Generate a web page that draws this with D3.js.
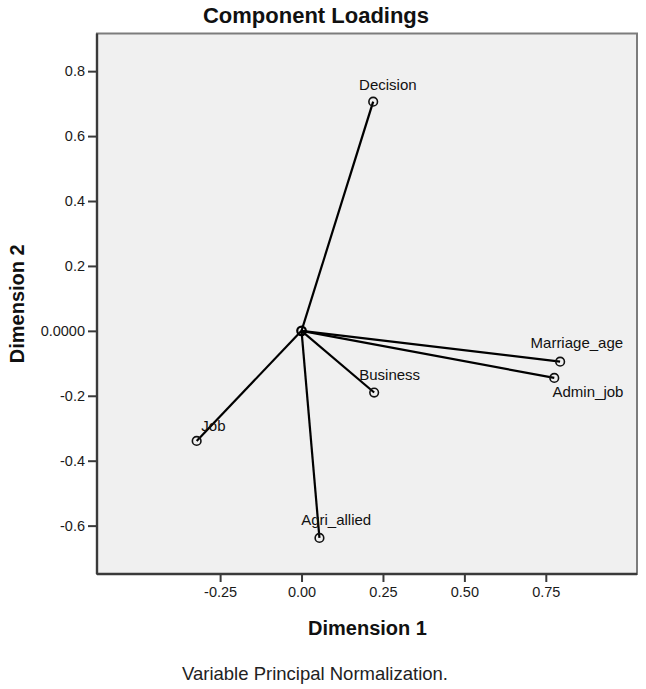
<!DOCTYPE html>
<html>
<head>
<meta charset="utf-8">
<script src="https://cdn.jsdelivr.net/npm/d3@7"></script>
<style>
  html, body { margin: 0; padding: 0; background: #ffffff; }
  svg { display: block; font-family: "Liberation Sans", Arial, sans-serif; }
</style>
</head>
<body>
<svg id="chart" width="646" height="689"></svg>
<script>
// ---- data ----
const variables = ["Decision", "Marriage_age", "Admin_job", "Business", "Job", "Agri_allied"];
const dim1 = [0.220, 0.794, 0.776, 0.223, -0.322, 0.055];
const dim2 = [0.706, -0.095, -0.145, -0.190, -0.339, -0.638];
const xTickValues = [-0.25, 0.00, 0.25, 0.50, 0.75];
const xTickLabels = ["-0.25", "0.00", "0.25", "0.50", "0.75"];
const yTickValues = [0.8, 0.6, 0.4, 0.2, 0.0, -0.2, -0.4, -0.6];
const yTickLabels = ["0.8", "0.6", "0.4", "0.2", "0.0000", "-0.2", "-0.4", "-0.6"];
const titleText = "Component Loadings";
const xTitle = "Dimension 1";
const yTitle = "Dimension 2";
const footnote = "Variable Principal Normalization.";

// ---- layout ----
const svg = d3.select("#chart");
const L = 97, R = 637, T = 33.5, B = 574;
const x = d3.scaleLinear().domain([-0.628, 1.030]).range([L, R]);
const y = d3.scaleLinear().domain([-0.749, 0.916]).range([B, T]);

// label placement relative to the point (text-anchor middle, baseline)
const labelOffset = {
  "Decision": [14.7, -11.7],
  "Marriage_age": [16.7, -13.7],
  "Admin_job": [33.7, 19],
  "Business": [15.5, -12.3],
  "Job": [16.8, -10],
  "Agri_allied": [16.7, -12.7]
};

// plot background + frame
svg.append("rect")
  .attr("x", L).attr("y", T).attr("width", R - L).attr("height", B - T)
  .attr("fill", "#f0f0f0").attr("stroke", "#7c7c7c").attr("stroke-width", 2);

// axes
const xAxis = d3.axisBottom(x).tickValues(xTickValues)
  .tickFormat((d, i) => xTickLabels[i]).tickSize(8).tickSizeOuter(0);
const yAxis = d3.axisLeft(y).tickValues(yTickValues)
  .tickFormat((d, i) => yTickLabels[i]).tickSize(9).tickSizeOuter(0);

const gx = svg.append("g").attr("transform", `translate(0,${B})`).call(xAxis);
gx.select(".domain").attr("d", `M${L},0H${R}`).attr("stroke", "#3a3a3a").attr("stroke-width", 2.4);
gx.selectAll(".tick line").attr("stroke", "#3a3a3a").attr("stroke-width", 2);
gx.selectAll(".tick text").attr("font-size", 14.5).attr("fill", "#1a1a1a")
  .attr("font-family", "Liberation Sans, Arial, sans-serif").attr("y", 13).attr("dy", "0.71em");

const gy = svg.append("g").attr("transform", `translate(${L},0)`).call(yAxis);
gy.select(".domain").attr("d", `M0,${T}V${B}`).attr("stroke", "#3a3a3a").attr("stroke-width", 2.4);
gy.selectAll(".tick line").attr("stroke", "#3a3a3a").attr("stroke-width", 2);
gy.selectAll(".tick text").attr("font-size", 14.5).attr("fill", "#1a1a1a")
  .attr("font-family", "Liberation Sans, Arial, sans-serif").attr("x", -12);

// vectors
const pts = variables.map((v, i) => ({ name: v, a: dim1[i], b: dim2[i] }));
const g = svg.append("g");
g.selectAll("line.vec").data(pts).enter().append("line")
  .attr("class", "vec")
  .attr("x1", x(0)).attr("y1", y(0))
  .attr("x2", d => x(d.a)).attr("y2", d => y(d.b))
  .attr("stroke", "#000").attr("stroke-width", 2.2);

g.selectAll("circle.pt").data(pts).enter().append("circle")
  .attr("class", "pt")
  .attr("cx", d => x(d.a)).attr("cy", d => y(d.b)).attr("r", 4.3)
  .attr("fill", "none").attr("stroke", "#111").attr("stroke-width", 1.6);

g.append("circle").attr("cx", x(0)).attr("cy", y(0)).attr("r", 4.3)
  .attr("fill", "none").attr("stroke", "#000").attr("stroke-width", 2.2);

g.selectAll("text.lab").data(pts).enter().append("text")
  .attr("class", "lab")
  .attr("x", d => x(d.a) + labelOffset[d.name][0])
  .attr("y", d => y(d.b) + labelOffset[d.name][1])
  .attr("text-anchor", "middle").attr("font-size", 15).attr("fill", "#111")
  .text(d => d.name);

// titles
svg.append("text").attr("x", 316).attr("y", 23.3).attr("text-anchor", "middle")
  .attr("font-size", 22).attr("font-weight", "bold").attr("fill", "#111").text(titleText);
svg.append("text").attr("x", 367.5).attr("y", 635).attr("text-anchor", "middle")
  .attr("font-size", 20).attr("font-weight", "bold").attr("fill", "#111").text(xTitle);
svg.append("text").attr("transform", `translate(24,${(T + B) / 2}) rotate(-90)`)
  .attr("text-anchor", "middle")
  .attr("font-size", 20).attr("font-weight", "bold").attr("fill", "#111").text(yTitle);
svg.append("text").attr("x", 315).attr("y", 680).attr("text-anchor", "middle")
  .attr("font-size", 18.5).attr("fill", "#222").text(footnote);
</script>
</body>
</html>
